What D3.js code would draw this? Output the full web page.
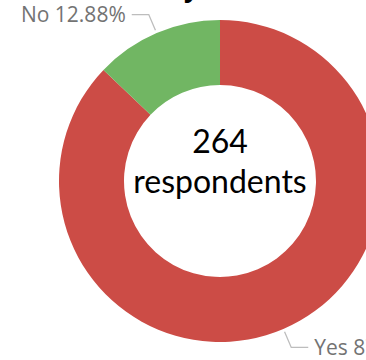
<!DOCTYPE html>
<html>
<head>
<meta charset="utf-8">
<script src="https://cdn.jsdelivr.net/npm/d3@7"></script>
<style>
  html, body { margin: 0; padding: 0; background: #fff; overflow: hidden; }
  svg { display: block; }
</style>
</head>
<body>
<svg id="chart" width="366" height="360"></svg>
<script>
// Survey answers (respondent counts per answer)
const categories = ["Yes", "No"];
const counts = [230, 34];
const colors = ["#CC4C46", "#71B663"];
const centerCaption = "respondents";

const width = 366, height = 360;
const cx = 220, cy = 181;
const outerR = 161, innerR = 96;

const svg = d3.select("#chart");

// Title sits above the visible area; only the tail of its "y" reaches in
svg.append("text")
  .attr("x", 184)
  .attr("y", -3)
  .attr("font-family", "'Open Sans', sans-serif")
  .attr("font-weight", 700)
  .attr("font-size", 26)
  .attr("fill", "#000")
  .text("y");

const total = d3.sum(counts);
const data = categories.map((c, i) => ({ category: c, count: counts[i], color: colors[i] }));

const pie = d3.pie().value(d => d.count).sort(null);
const arcs = pie(data);
const arc = d3.arc().innerRadius(innerR).outerRadius(outerR);

const g = svg.append("g").attr("transform", `translate(${cx},${cy})`);

g.selectAll("path.slice")
  .data(arcs)
  .join("path")
  .attr("class", "slice")
  .attr("d", arc)
  .attr("fill", d => d.data.color);

// Leader lines and labels
const fmt = d3.format(".2f");
const leaderStart = d3.arc().innerRadius(outerR + 3).outerRadius(outerR + 3);
const leaderElbow = d3.arc().innerRadius(outerR + 20).outerRadius(outerR + 20);

arcs.forEach(d => {
  const p0 = leaderStart.centroid(d);
  const p1 = leaderElbow.centroid(d);
  const side = p1[0] >= 0 ? 1 : -1;
  const p2 = [p1[0] + side * 17, p1[1]];
  g.append("polyline")
    .attr("points", [p0, p1, p2].map(p => p.join(",")).join(" "))
    .attr("fill", "none")
    .attr("stroke", "#bdbdbd")
    .attr("stroke-width", 1.3);
  g.append("text")
    .attr("x", p2[0] + side * 6)
    .attr("y", p2[1])
    .attr("dy", "0.36em")
    .attr("text-anchor", side > 0 ? "start" : "end")
    .attr("font-family", "'Open Sans', sans-serif")
    .attr("font-size", 21)
    .attr("fill", "#737373")
    .text(`${d.data.category} ${fmt(d.data.count / total * 100)}%`);
});

// Center caption
g.append("text")
  .attr("x", 0)
  .attr("y", -28)
  .attr("text-anchor", "middle")
  .attr("font-family", "Lato, sans-serif")
  .attr("font-size", 32)
  .attr("fill", "#000")
  .text(String(total));

g.append("text")
  .attr("x", 0)
  .attr("y", 12)
  .attr("text-anchor", "middle")
  .attr("font-family", "Lato, sans-serif")
  .attr("font-size", 32)
  .attr("fill", "#000")
  .text(centerCaption);
</script>
</body>
</html>
